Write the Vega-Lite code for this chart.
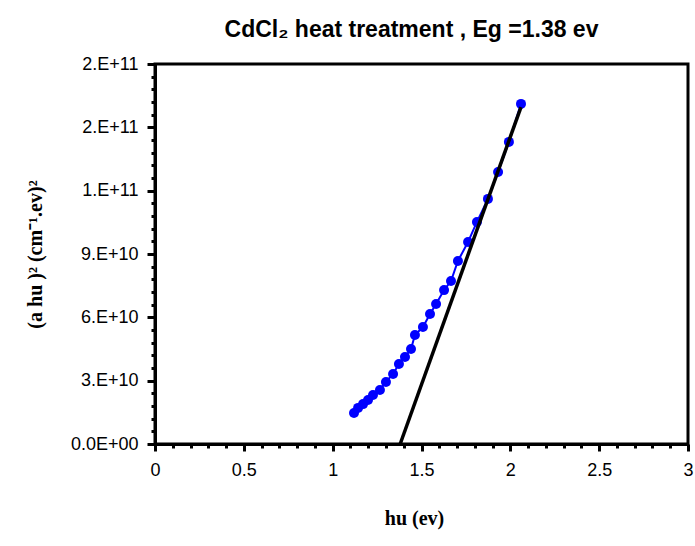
{
  "$schema": "https://vega.github.io/schema/vega-lite/v6.json",
  "autosize": "none",
  "width": 533,
  "height": 380,
  "padding": {"left": 155, "top": 64, "right": 7, "bottom": 102},
  "background": "white",
  "title": {
    "text": "CdCl₂ heat treatment , Eg =1.38 ev",
    "font": "Liberation Sans",
    "fontSize": 23,
    "fontWeight": "bold",
    "color": "black",
    "anchor": "middle",
    "offset": 13,
    "dx": -10
  },
  "config": {
    "view": {"stroke": "black", "strokeWidth": 3}
  },
  "datasets": {
    "pts": [
      {"hv": 1.120, "y": 14.7e9},
      {"hv": 1.143, "y": 17.1e9},
      {"hv": 1.171, "y": 18.9e9},
      {"hv": 1.199, "y": 20.8e9},
      {"hv": 1.227, "y": 23.2e9},
      {"hv": 1.266, "y": 25.6e9},
      {"hv": 1.300, "y": 29.4e9},
      {"hv": 1.340, "y": 33.2e9},
      {"hv": 1.373, "y": 37.9e9},
      {"hv": 1.407, "y": 41.2e9},
      {"hv": 1.441, "y": 45.0e9},
      {"hv": 1.463, "y": 51.6e9},
      {"hv": 1.508, "y": 55.4e9},
      {"hv": 1.548, "y": 61.6e9},
      {"hv": 1.582, "y": 66.3e9},
      {"hv": 1.627, "y": 72.9e9},
      {"hv": 1.666, "y": 77.2e9},
      {"hv": 1.705, "y": 86.7e9},
      {"hv": 1.762, "y": 95.7e9},
      {"hv": 1.812, "y": 105.2e9},
      {"hv": 1.874, "y": 116.1e9},
      {"hv": 1.931, "y": 128.8e9},
      {"hv": 1.992, "y": 143.1e9},
      {"hv": 2.060, "y": 161.1e9}
    ],
    "fit": [
      {"hv": 1.38, "y": 0},
      {"hv": 2.06, "y": 159.6e9}
    ]
  },
  "encoding": {
    "x": {
      "field": "hv", "type": "quantitative",
      "scale": {"domain": [0, 3], "nice": false},
      "axis": {
        "values": [0,0.1,0.2,0.3,0.4,0.5,0.6,0.7,0.8,0.9,1,1.1,1.2,1.3,1.4,1.5,1.6,1.7,1.8,1.9,2,2.1,2.2,2.3,2.4,2.5,2.6,2.7,2.8,2.9,3],
        "labelExpr": "abs(datum.value*2 - round(datum.value*2)) < 1e-6 ? format(datum.value, '') : ''",
        "tickSize": {"condition": {"test": "abs(datum.value*2 - round(datum.value*2)) < 1e-6", "value": 7}, "value": 4},
        "tickColor": "black",
        "tickWidth": 3,
        "domainColor": "black",
        "domainWidth": 3,
        "grid": false,
        "labelFont": "Liberation Sans",
        "labelFontSize": 18,
        "labelColor": "black",
        "labelPadding": 10,
        "labelFlush": false,
        "labelOverlap": false,
        "title": "hu  (ev)",
        "titleFont": "Liberation Serif",
        "titleFontSize": 20,
        "titleFontWeight": "bold",
        "titleColor": "black",
        "titleX": 259,
        "titleY": 74,
        "titleBaseline": "middle"
      }
    },
    "y": {
      "field": "y", "type": "quantitative",
      "scale": {"domain": [0, 180000000000], "nice": false},
      "axis": {
        "values": [0,6e9,12e9,18e9,24e9,30e9,36e9,42e9,48e9,54e9,60e9,66e9,72e9,78e9,84e9,90e9,96e9,102e9,108e9,114e9,120e9,126e9,132e9,138e9,144e9,150e9,156e9,162e9,168e9,174e9,180e9],
        "labelExpr": "abs(datum.value/3e10 - round(datum.value/3e10)) < 1e-6 ? (datum.value == 0 ? '0.0E+00' : format(datum.value/pow(10, floor(log(datum.value)/LN10 + 1e-9)), '.0f') + '.E+' + floor(log(datum.value)/LN10 + 1e-9)) : ''",
        "tickSize": {"condition": {"test": "abs(datum.value/3e10 - round(datum.value/3e10)) < 1e-6", "value": 8}, "value": 4},
        "tickColor": "black",
        "tickWidth": 3,
        "domainColor": "black",
        "domainWidth": 3,
        "grid": false,
        "labelFont": "Liberation Sans",
        "labelFontSize": 18,
        "labelColor": "black",
        "labelPadding": 9,
        "labelFlush": false,
        "labelOverlap": false,
        "title": "(a hu )² (cm⁻¹.ev)²",
        "titleFont": "Liberation Serif",
        "titleFontSize": 20,
        "titleFontWeight": "bold",
        "titleColor": "black",
        "titleX": -120,
        "titleY": 190,
        "titleAngle": -90,
        "titleBaseline": "middle",
        "titleAlign": "center"
      }
    }
  },
  "layer": [
    {
      "data": {"name": "pts"},
      "mark": {"type": "line", "color": "#0000FF", "strokeWidth": 2}
    },
    {
      "data": {"name": "pts"},
      "mark": {"type": "point", "filled": true, "color": "#0000FF", "size": 100, "opacity": 1}
    },
    {
      "data": {"name": "fit"},
      "mark": {"type": "line", "color": "black", "strokeWidth": 3.5}
    }
  ]
}
